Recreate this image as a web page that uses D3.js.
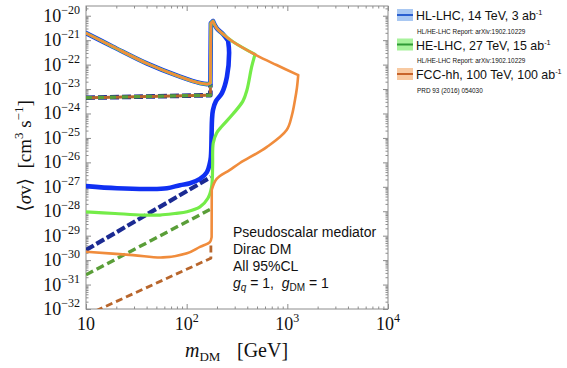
<!DOCTYPE html>
<html>
<head>
<meta charset="utf-8">
<script src="https://cdn.jsdelivr.net/npm/d3@7"></script>
<style>
  body { margin: 0; background: #fff; }
  svg { display: block; }
</style>
</head>
<body>
<svg id="chart" width="567" height="368"></svg>
<script>
// ---- Reach curves: dark-matter mass (GeV) vs <sigma v> (cm^3 s^-1) ----

// Shared upper boundary (left branch, threshold spike, falling right branch)
const envMass  = [10, 18.5, 40.1, 85.8, 135.6, 162.6, 172, 174, 182.5, 198.6, 229, 288, 495, 783];
const envSigma = [1.95e-21, 5.4e-22, 1.12e-22, 3.2e-23, 1.75e-23, 1.6e-23, 1.75e-23, 5.0e-21, 6.0e-21, 3.1e-21, 1.78e-21, 8.6e-22, 2.4e-22, 9.6e-23];

// HL-LHC, 14 TeV, 3 ab^-1 (solid): lower branch and rising edge
const hlMass  = [10, 20.3, 43.2, 63.7, 85.8, 107.8, 135.6, 159, 170, 174, 177, 178.4, 182.5, 195.4, 224, 251, 264, 258];
const hlSigma = [1.07e-27, 8.7e-28, 8.1e-28, 8.7e-28, 1.17e-27, 1.4e-27, 2.1e-27, 4.0e-27, 9.3e-27, 1.66e-26, 1.6e-25, 5.4e-25, 1.4e-24, 3.2e-24, 6.8e-24, 3.1e-23, 3.0e-22, 9.5e-22];

// HE-LHC, 27 TeV, 15 ab^-1 (solid)
const heMass  = [10, 19.4, 36.8, 54.3, 76.5, 100.7, 135.6, 162.6, 177, 181, 183.7, 198.6, 224, 288, 362, 397, 442, 477];
const heSigma = [9.5e-29, 8.1e-29, 7.0e-29, 7.0e-29, 8.1e-29, 9.5e-29, 1.5e-28, 3.4e-28, 1.0e-27, 6.6e-27, 6.2e-26, 1.6e-25, 3.0e-25, 9.5e-25, 3.2e-24, 9.1e-24, 8.0e-23, 2.6e-22];

// FCC-hh, 100 TeV, 100 ab^-1 (solid)
const fccMass  = [10, 29.3, 58.2, 100.7, 135.6, 170, 177, 177.5, 198.6, 269, 338, 623, 984, 1111, 1190, 1245, 1283];
const fccSigma = [2.2e-30, 1.6e-30, 1.29e-30, 1.9e-30, 3.5e-30, 5.5e-30, 8.7e-30, 7.4e-28, 2.1e-27, 4.9e-27, 9.4e-27, 4.2e-26, 2.1e-25, 8.6e-25, 3.5e-24, 1.1e-23, 3.7e-23];

// Dashed bounds
const hlDashMass   = [10, 174];
const hlDashSigma  = [2.6e-30, 2.5e-27];
const heDashMass   = [10, 174];
const heDashSigma  = [2.5e-31, 1.23e-28];
const fccDashMass  = [10, 174, 174];
const fccDashSigma = [5.5e-33, 1.2e-30, 5.0e-30];
const dashTopMass  = [10, 172, 172];
const dashTopSigma = [4.4e-24, 5.6e-24, 1.6e-23];

// Axis ticks
const xMajor = [10, 100, 1000, 10000];
const xLabels = [["10", ""], ["10", "2"], ["10", "3"], ["10", "4"]];
const yExponents = [-32, -31, -30, -29, -28, -27, -26, -25, -24, -23, -22, -21, -20];

// Legend entries
const legendLabels = ["HL-LHC, 14 TeV, 3 ab", "HE-LHC, 27 TeV, 15 ab", "FCC-hh, 100 TeV, 100 ab"];
const legendNotes  = ["HL/HE-LHC Report: arXiv:1902.10229", "HL/HE-LHC Report: arXiv:1902.10229", "PRD 93 (2016) 054030"];

// Annotation lines
const noteLines = ["Pseudoscalar mediator", "Dirac DM", "All 95%CL"];

// ---- Layout ----
const svg = d3.select("#chart");
const plot = { left: 86, right: 388, top: 6, bottom: 309 };
const x = d3.scaleLog().domain([10, 1e4]).range([plot.left, plot.right]);
const y = d3.scaleLog().domain([1e-32, 2.5e-20]).range([plot.bottom, plot.top]);

const serif = "'Liberation Serif', 'DejaVu Serif', serif";
const sans = "'Liberation Sans', Arial, sans-serif";
const frameColor = "#8c8c8c";

svg.append("defs").append("clipPath").attr("id", "plotClip")
  .append("rect")
  .attr("x", plot.left).attr("y", plot.top)
  .attr("width", plot.right - plot.left).attr("height", plot.bottom - plot.top);

// ---- Ticks ----
const xMinor = [];
[10, 100, 1000].forEach(d => { for (let k = 2; k <= 9; k++) xMinor.push(d * k); });
const yMajor = yExponents.map(e => +("1e" + e));
const yMinor = [];
yExponents.forEach(e => { for (let k = 2; k <= 9; k++) { const v = +(k + "e" + e); if (v < 2.5e-20) yMinor.push(v); } });

function tickGroup(axis, tx, ty) {
  const g = svg.append("g").attr("transform", `translate(${tx},${ty})`).call(axis);
  g.select(".domain").remove();
  g.selectAll("line").attr("stroke", frameColor).attr("stroke-width", 1);
  g.selectAll("text").remove();
}
[[xMajor, 5], [xMinor, 2.5]].forEach(([vals, len]) => {
  tickGroup(d3.axisBottom(x).tickValues(vals).tickSize(-len), 0, plot.bottom);
  tickGroup(d3.axisTop(x).tickValues(vals).tickSize(-len), 0, plot.top);
});
[[yMajor, 5], [yMinor, 2.5]].forEach(([vals, len]) => {
  tickGroup(d3.axisLeft(y).tickValues(vals).tickSize(-len), plot.left, 0);
  tickGroup(d3.axisRight(y).tickValues(vals).tickSize(-len), plot.right, 0);
});

// Frame
svg.append("rect")
  .attr("x", plot.left).attr("y", plot.top)
  .attr("width", plot.right - plot.left).attr("height", plot.bottom - plot.top)
  .attr("fill", "none").attr("stroke", frameColor).attr("stroke-width", 1);

// Tick labels
xMajor.forEach((v, i) => {
  const t = svg.append("text").attr("x", x(v)).attr("y", 330)
    .attr("text-anchor", "middle").attr("font-family", serif).attr("font-size", 18).attr("fill", "#111");
  t.append("tspan").text(xLabels[i][0]);
  if (xLabels[i][1]) t.append("tspan").attr("dy", -8).attr("font-size", 12).text(xLabels[i][1]);
});
yExponents.forEach((e, i) => {
  const t = svg.append("text").attr("x", 80).attr("y", y(yMajor[i]) + 6)
    .attr("text-anchor", "end").attr("font-family", serif).attr("font-size", 18).attr("fill", "#111");
  t.append("tspan").text("10");
  t.append("tspan").attr("dy", -8).attr("font-size", 12).text("\u2212" + Math.abs(e));
});

// Axis titles
const xt = svg.append("text").attr("x", 185).attr("y", 357)
  .attr("font-family", serif).attr("font-size", 20).attr("fill", "#111");
xt.append("tspan").attr("font-style", "italic").text("m");
xt.append("tspan").attr("dy", 4).attr("font-size", 13).text("DM");
svg.append("text").attr("x", 237).attr("y", 357)
  .attr("font-family", serif).attr("font-size", 20).attr("fill", "#111").text("[GeV]");

const yt = svg.append("text").attr("transform", "translate(31,156) rotate(-90)")
  .attr("text-anchor", "middle").attr("font-family", serif).attr("font-size", 19).attr("fill", "#111");
yt.append("tspan").text("\u27e8");
yt.append("tspan").attr("font-style", "italic").text("\u03c3");
yt.append("tspan").text("v\u27e9\u00a0\u00a0[cm");
yt.append("tspan").attr("dy", -8).attr("font-size", 13).text("3");
yt.append("tspan").attr("dy", 8).text("\u00a0s");
yt.append("tspan").attr("dy", -8).attr("font-size", 13).text("\u22121");
yt.append("tspan").attr("dy", 8).text("]");

// ---- Curves ----
const zip = (ms, ss) => ms.map((m, i) => [m, ss[i]]);
const smooth = d3.line().x(d => x(d[0])).y(d => y(d[1])).curve(d3.curveCatmullRom.alpha(0.5));
const straight = d3.line().x(d => x(d[0])).y(d => y(d[1]));

// split a point list into pieces at sharp corners (shared end points)
function splitAt(pts, corners) {
  const pieces = [];
  let start = 0;
  corners.forEach(c => { pieces.push(pts.slice(start, c + 1)); start = c; });
  pieces.push(pts.slice(start));
  return pieces;
}

const PEAK = 8; // index of the spike top in the shared boundary
function outlinePath(mass, sigma, corners) {
  const pts = zip(mass, sigma);
  const end = pts[pts.length - 1];
  const env = zip(envMass, envSigma);
  const parts = splitAt(pts, corners).map(p => smooth(p));
  const desc = env.slice(PEAK).filter(d => d[0] < end[0]).reverse();
  parts.push(smooth([end, ...desc]));
  parts.push(straight(env.slice(PEAK - 2, PEAK + 1).reverse()));
  parts.push(smooth(env.slice(0, PEAK - 1).reverse()));
  return parts.join("");
}

const curves = svg.append("g").attr("clip-path", "url(#plotClip)").attr("fill", "none")
  .attr("stroke-linejoin", "round").attr("stroke-linecap", "round");

const navy = "#1b2a92", greenDark = "#5a9e38", brown = "#b8662c";
const blue = "#1030f2", green = "#74ec48", orange = "#f08c3c";

// dashed bounds
[[hlDashMass, hlDashSigma, navy, 4.2, "9,3"],
 [heDashMass, heDashSigma, greenDark, 3.4, "8,4"],
 [fccDashMass, fccDashSigma, brown, 2.8, "7,4"]].forEach(([m, s, c, w, dash]) => {
  curves.append("path").attr("d", straight(zip(m, s)))
    .attr("stroke", c).attr("stroke-width", w).attr("stroke-dasharray", dash).attr("stroke-linecap", "butt");
});
[[navy, 4.6, "9,3", 0], [greenDark, 3.4, "6,6", 0], [brown, 3.0, "6,6", 6]].forEach(([c, w, dash, off]) => {
  curves.append("path").attr("d", straight(zip(dashTopMass, dashTopSigma)))
    .attr("stroke", c).attr("stroke-width", w).attr("stroke-dasharray", dash)
    .attr("stroke-dashoffset", off).attr("stroke-linecap", "butt");
});

// solid reach outlines
curves.append("path").attr("d", outlinePath(hlMass, hlSigma, []))
  .attr("stroke", blue).attr("stroke-width", 4.6);
curves.append("path").attr("d", outlinePath(heMass, heSigma, []))
  .attr("stroke", green).attr("stroke-width", 3.2);
curves.append("path").attr("d", outlinePath(fccMass, fccSigma, [6, 7]))
  .attr("stroke", orange).attr("stroke-width", 2.6);

// ---- Annotation ----
const ann = svg.append("g").attr("font-family", sans).attr("font-size", 14).attr("fill", "#111");
noteLines.forEach((s, i) => ann.append("text").attr("x", 233).attr("y", 237 + i * 17).text(s));
const gl = ann.append("text").attr("x", 233).attr("y", 288);
gl.append("tspan").attr("font-style", "italic").text("g");
gl.append("tspan").attr("dy", 3).attr("font-size", 10).attr("font-style", "italic").text("q");
gl.append("tspan").attr("dy", -3).text("\u00a0=\u00a01,\u00a0\u00a0");
gl.append("tspan").attr("font-style", "italic").text("g");
gl.append("tspan").attr("dy", 3).attr("font-size", 10).text("DM");
gl.append("tspan").attr("dy", -3).text("\u00a0=\u00a01");

// ---- Legend ----
const legendFill = ["#a9c8f2", "#a8f29c", "#f8caa2"];
const legendLine = ["#2a5fd0", "#2f9a35", "#c8642a"];
const legendY = [15, 44.5, 74];
const leg = svg.append("g").attr("font-family", sans).attr("fill", "#111");
legendLabels.forEach((lab, i) => {
  const cy = legendY[i];
  leg.append("rect").attr("x", 397).attr("y", cy - 6).attr("width", 16).attr("height", 12)
    .attr("fill", legendFill[i]);
  leg.append("line").attr("x1", 397).attr("x2", 413).attr("y1", cy).attr("y2", cy)
    .attr("stroke", legendLine[i]).attr("stroke-width", 2);
  const t = leg.append("text").attr("x", 416).attr("y", cy + 5).attr("font-size", 12.4);
  t.append("tspan").text(lab);
  t.append("tspan").attr("dy", -5).attr("font-size", 7.4).text("-1");
  leg.append("text").attr("x", 417).attr("y", cy + 18.5).attr("font-size", 6.4).text(legendNotes[i]);
});
</script>
</body>
</html>
